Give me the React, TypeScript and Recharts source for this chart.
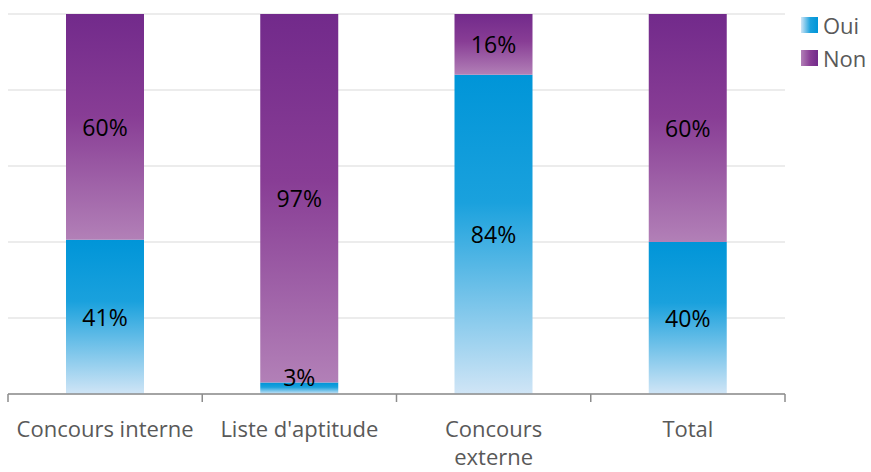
import { BarChart, Bar, XAxis, YAxis, CartesianGrid, LabelList } from "recharts";

const categories = ["Concours interne", "Liste d'aptitude", "Concours externe", "Total"];
const tickLines: string[][] = [["Concours interne"], ["Liste d'aptitude"], ["Concours", "externe"], ["Total"]];
const oui = [41, 3, 84, 40];
const non = [60, 97, 16, 60];
const gridTicks = [0, 0.2, 0.4, 0.6, 0.8, 1];

const W = 871;
const H = 472;
const MARGIN = { top: 14, right: 86, left: 8, bottom: 0 };
const PLOT_W = W - MARGIN.left - MARGIN.right;
const BAND = PLOT_W / categories.length;
const FONT = "'Open Sans', Lato, sans-serif";

const data = categories.map((name, i) => ({ name, oui: oui[i], non: non[i] }));

function AxisTick(props: any) {
  const { x, y, index } = props;
  const lines = tickLines[index] ?? [String(props.payload?.value)];
  const left = x - BAND / 2;
  const right = x + BAND / 2;
  return (
    <g>
      <line x1={left} y1={y} x2={left} y2={y + 8} stroke="#8c8c8c" strokeWidth={1.5} />
      {index === categories.length - 1 && (
        <line x1={right} y1={y} x2={right} y2={y + 8} stroke="#8c8c8c" strokeWidth={1.5} />
      )}
      {lines.map((ln, i) => (
        <text key={i} x={x} y={y + 43 + i * 28} textAnchor="middle" fill="#595959" fontSize={22} fontFamily={FONT}>
          {ln}
        </text>
      ))}
    </g>
  );
}

function SegLabel(props: any) {
  const { x, y, width, height, value } = props;
  const cx = x + width / 2;
  const cy = height < 24 ? y + height - 17 : y + height / 2;
  return (
    <text x={cx} y={cy} textAnchor="middle" dominantBaseline="central" fill="#000" fontSize={23} fontFamily={FONT}>
      {value}%
    </text>
  );
}

export default function App() {
  return (
    <div style={{ position: "absolute", left: 0, top: 0, width: W, height: H, background: "#fff" }}>
      <BarChart width={W} height={H} data={data} margin={MARGIN} stackOffset="expand" barSize={78}>
        <defs>
          <linearGradient id="gOui" x1="0" y1="0" x2="0" y2="1">
            <stop offset="0" stopColor="#0095D8" />
            <stop offset="0.4" stopColor="#1AA1DD" />
            <stop offset="1" stopColor="#D0E5F6" />
          </linearGradient>
          <linearGradient id="gNon" x1="0" y1="0" x2="0" y2="1">
            <stop offset="0" stopColor="#722A8B" />
            <stop offset="0.45" stopColor="#883D95" />
            <stop offset="1" stopColor="#B280B7" />
          </linearGradient>
        </defs>
        <CartesianGrid vertical={false} stroke="#d9d9d9" strokeWidth={1} />
        <YAxis hide domain={[0, 1]} ticks={gridTicks} />
        <XAxis
          dataKey="name"
          height={78}
          interval={0}
          tickSize={0}
          tickMargin={0}
          tickLine={false}
          axisLine={{ stroke: "#8c8c8c", strokeWidth: 1.5 }}
          tick={AxisTick}
        />
        <Bar dataKey="oui" stackId="a" fill="url(#gOui)" isAnimationActive={false}>
          <LabelList dataKey="oui" content={SegLabel} />
        </Bar>
        <Bar dataKey="non" stackId="a" fill="url(#gNon)" isAnimationActive={false}>
          <LabelList dataKey="non" content={SegLabel} />
        </Bar>
      </BarChart>
      <div style={{ position: "absolute", left: 801, top: 17, fontFamily: FONT, fontSize: 22, color: "#595959" }}>
        {[
          { name: "Oui", grad: "linear-gradient(to right, #D0E5F6, #1AA1DD 55%, #0095D8)" },
          { name: "Non", grad: "linear-gradient(to right, #B280B7, #883D95 55%, #722A8B)" },
        ].map((it, i) => (
          <div key={it.name} style={{ position: "absolute", top: i * 33, left: 0, display: "flex", alignItems: "center", whiteSpace: "nowrap" }}>
            <span style={{ display: "inline-block", width: 17, height: 16, background: it.grad }} />
            <span style={{ marginLeft: 5, lineHeight: "16px" }}>{it.name}</span>
          </div>
        ))}
      </div>
    </div>
  );
}
